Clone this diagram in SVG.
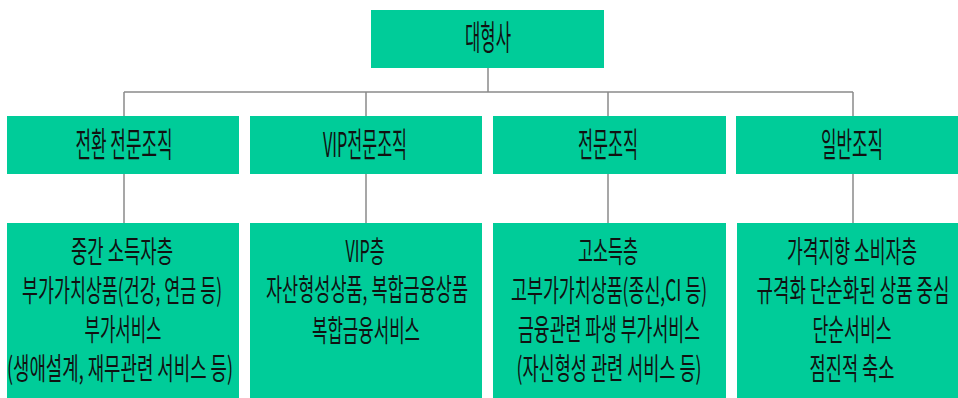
<svg xmlns="http://www.w3.org/2000/svg" width="958" height="398" viewBox="0 0 958 398">
<style>
.box{fill:#00CC99;}
.ln{stroke:#8a8a8a;stroke-width:1.5;fill:none;}
text{font-family:"Noto Sans CJK KR","Noto Sans",sans-serif;fill:#111;text-anchor:middle;lengthAdjust:spacingAndGlyphs;}
.h{font-size:34px;}
.b{font-size:30px;}
</style>
<rect width="958" height="398" fill="#ffffff"/>
<g id="connectors">
<path class="ln" d="M488,68 V92 M124,92 H853 M124,92 V116 M366,92 V116 M608,92 V116 M853,92 V116 M124,174 V223 M366,174 V223 M608,174 V223 M853,174 V223"/>
</g>
<g id="top">
<rect class="box" x="371" y="10" width="233" height="58"/>
<text class="h" x="488" y="50" textLength="46" lengthAdjust="spacingAndGlyphs">대형사</text>
</g>
<g id="mid1">
<rect class="box" x="7" y="116" width="232" height="58"/>
<text class="h" x="124" y="157" textLength="97" lengthAdjust="spacingAndGlyphs">전환 전문조직</text>
</g>
<g id="mid2">
<rect class="box" x="250" y="116" width="232" height="58"/>
<text class="h" x="365" y="157" textLength="84" lengthAdjust="spacingAndGlyphs">VIP전문조직</text>
</g>
<g id="mid3">
<rect class="box" x="493" y="116" width="233" height="58"/>
<text class="h" x="608" y="157" textLength="60" lengthAdjust="spacingAndGlyphs">전문조직</text>
</g>
<g id="mid4">
<rect class="box" x="736" y="116" width="222" height="58"/>
<text class="h" x="852" y="157" textLength="62" lengthAdjust="spacingAndGlyphs">일반조직</text>
</g>
<g id="bot1">
<rect class="box" x="7" y="223" width="232" height="175"/>
<text class="b" x="122" y="262" textLength="102" lengthAdjust="spacingAndGlyphs">중간 소득자층</text>
<text class="b" x="122" y="301" textLength="200" lengthAdjust="spacingAndGlyphs">부가가치상품(건강, 연금 등)</text>
<text class="b" x="123" y="340" textLength="77" lengthAdjust="spacingAndGlyphs">부가서비스</text>
<text class="b" x="120" y="379" textLength="226" lengthAdjust="spacingAndGlyphs">(생애설계, 재무관련 서비스 등)</text>
</g>
<g id="bot2">
<rect class="box" x="250" y="223" width="232" height="175"/>
<text class="b" x="365" y="262" textLength="39" lengthAdjust="spacingAndGlyphs">VIP층</text>
<text class="b" x="367" y="300" textLength="202" lengthAdjust="spacingAndGlyphs">자산형성상품, 복합금융상품</text>
<text class="b" x="366" y="341" textLength="108" lengthAdjust="spacingAndGlyphs">복합금융서비스</text>
</g>
<g id="bot3">
<rect class="box" x="493" y="223" width="233" height="175"/>
<text class="b" x="608" y="262" textLength="60" lengthAdjust="spacingAndGlyphs">고소득층</text>
<text class="b" x="609" y="301" textLength="196" lengthAdjust="spacingAndGlyphs">고부가가치상품(종신,CI 등)</text>
<text class="b" x="609" y="340" textLength="182" lengthAdjust="spacingAndGlyphs">금융관련 파생 부가서비스</text>
<text class="b" x="609" y="379" textLength="185" lengthAdjust="spacingAndGlyphs">(자신형성 관련 서비스 등)</text>
</g>
<g id="bot4">
<rect class="box" x="737" y="223" width="221" height="175"/>
<text class="b" x="852" y="262" textLength="130" lengthAdjust="spacingAndGlyphs">가격지향 소비자층</text>
<text class="b" x="853" y="301" textLength="193" lengthAdjust="spacingAndGlyphs">규격화 단순화된 상품 중심</text>
<text class="b" x="852" y="340" textLength="79" lengthAdjust="spacingAndGlyphs">단순서비스</text>
<text class="b" x="852" y="379" textLength="85" lengthAdjust="spacingAndGlyphs">점진적 축소</text>
</g>
</svg>
